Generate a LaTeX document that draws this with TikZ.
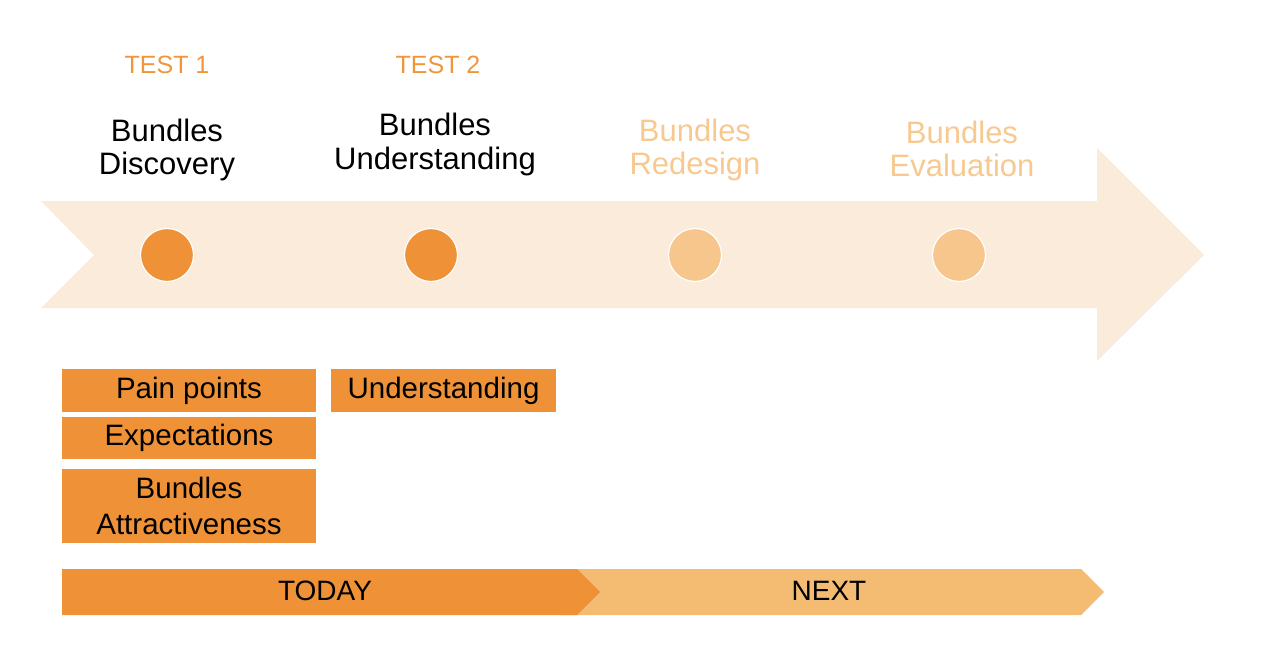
\documentclass[tikz,border=0pt]{standalone}
\usepackage{fontspec}
\setmainfont{Liberation Sans}
\definecolor{dorange}{HTML}{EF9237}
\definecolor{lorange}{HTML}{F4BC73}
\definecolor{lcirc}{HTML}{F7C68C}
\definecolor{ltext}{HTML}{F7C990}
\definecolor{arrowbg}{HTML}{FBEBDB}
\definecolor{testtxt}{HTML}{F0953A}
\tikzset{
  title/.style={anchor=base, inner sep=0pt, font=\fontsize{31}{37}\selectfont},
  testlbl/.style={anchor=base, inner sep=0pt, text=testtxt, font=\fontsize{25}{30}\selectfont},
  dot/.style={circle, minimum size=53pt, inner sep=0pt, draw=white, line width=1.2pt},
  topicbox/.style={fill=dorange, inner sep=0pt, minimum width=254pt, align=center, font=\fontsize{29.5}{36}\selectfont},
  barlbl/.style={anchor=base, inner sep=0pt, font=\fontsize{28}{33}\selectfont}
}
\begin{document}
\begin{tikzpicture}[x=1pt,y=-1pt]
\useasboundingbox (0,0) rectangle (1264,650);
% big arrow
\fill[arrowbg] (41,201) -- (1097,201) -- (1097,148) -- (1204,255) -- (1097,361) -- (1097,308) -- (41,308) -- (94,255) -- cycle;
% dots
\node[dot, fill=dorange] (c1) at (167,255) {};
\node[dot, fill=dorange] (c2) at (431,255) {};
\node[dot, fill=lcirc] (c3) at (695,255) {};
\node[dot, fill=lcirc] (c4) at (959,255) {};
% test labels
\node[testlbl] (test1) at (167,74) {TEST 1};
\node[testlbl] (test2) at (438,74) {TEST 2};
% titles
\node[title] (t1a) at (167,141.5) {Bundles};
\node[title] (t1b) at (167,174.5) {Discovery};
\node[title] (t2a) at (435,135.5) {Bundles};
\node[title] (t2b) at (435,169.5) {Understanding};
\node[title, text=ltext] (t3a) at (695,141.5) {Bundles};
\node[title, text=ltext] (t3b) at (695,175) {Redesign};
\node[title, text=ltext] (t4a) at (962,143.5) {Bundles};
\node[title, text=ltext] (t4b) at (962,177) {Evaluation};
% topic boxes
\node[topicbox, minimum height=43pt] (pain) at (189,390.5) {Pain points};
\node[topicbox, minimum height=42pt] (expect) at (189,438) {Expectations};
\node[topicbox, minimum height=74pt] (attract) at (189,506) {Bundles\\Attractiveness};
\node[topicbox, minimum height=43pt, minimum width=225pt] (underst) at (443.5,390.5) {Understanding};
% bottom bars
\fill[lorange] (560,569) -- (1081,569) -- (1104,592) -- (1081,615) -- (560,615) -- cycle;
\fill[dorange] (62,569) -- (577,569) -- (600,592) -- (577,615) -- (62,615) -- cycle;
\node[barlbl] (today) at (325,600) {TODAY};
\node[barlbl] (next) at (829,600) {NEXT};
\end{tikzpicture}
\end{document}
